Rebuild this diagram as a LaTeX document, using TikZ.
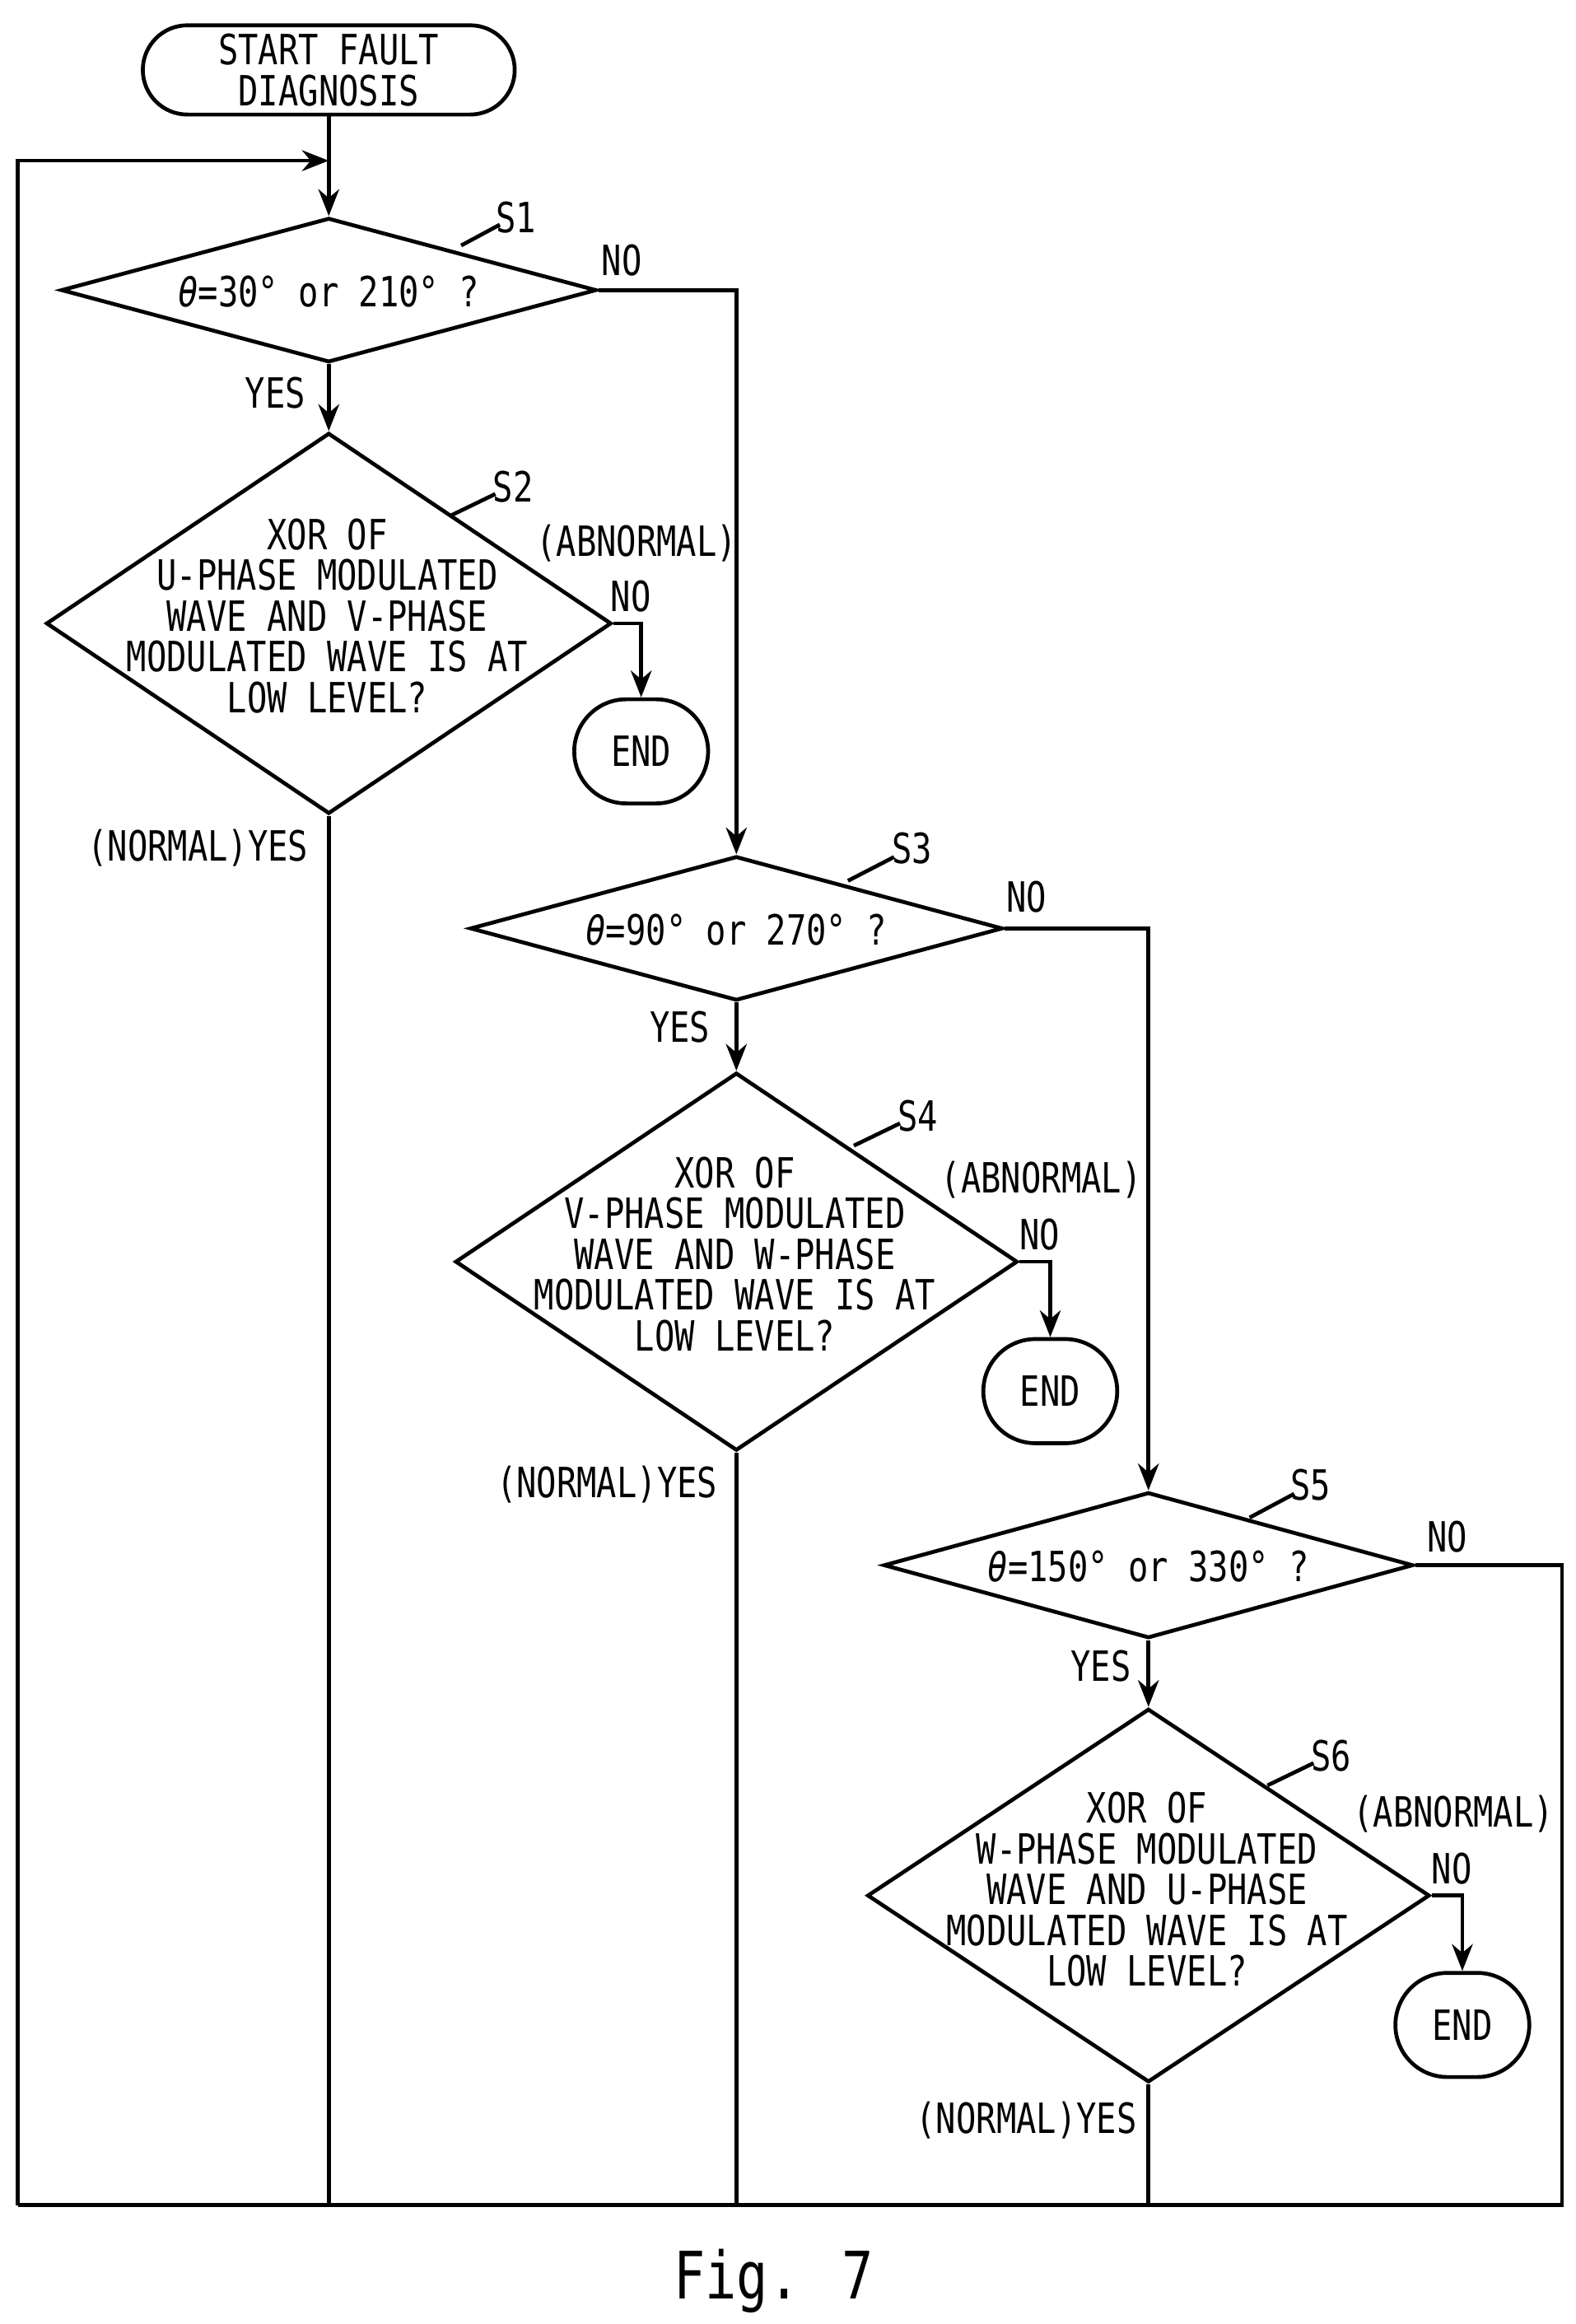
\documentclass[tikz,border=0pt]{standalone}
\usepackage{fontspec}
\setmainfont{DejaVu Sans Mono}[FakeStretch=0.8]
\usetikzlibrary{shapes.geometric,shapes.misc,arrows.meta}
\begin{document}
\begin{tikzpicture}[x=0.5pt,y=-0.5pt,
  every node/.style={font=\fontsize{14}{13.7}\selectfont},
  line/.style={line width=1.3pt},
  arr/.style={line, -{Stealth[length=9pt,width=7pt]}},
  dia/.style={draw,line width=1.3pt,diamond,inner sep=0pt},
  term/.style={draw,line width=1.3pt,rounded rectangle,inner sep=0pt,align=center},
  txt/.style={align=center,inner sep=0pt},
  lbl/.style={inner sep=1pt}]
\useasboundingbox (0,0) rectangle (1059,1562);
% start
\node[term,minimum width=125pt,minimum height=30pt] (start) at (221,47) {START FAULT\\DIAGNOSIS};
\coordinate (j0) at (221,108);
% S1
\node[dia,minimum width=180pt,minimum height=48.5pt] (s1) at (221,195) {};
\node[txt] at (221,196) {{\itshape θ}=30°  or  210°  ?};
\node[lbl] (l1) at (347,146) {S1};
\draw[line] (310,165) -- (336,151);
% S2
\node[dia,minimum width=190pt,minimum height=128pt] (s2) at (221,419) {};
\node[txt] at (220,414) {XOR OF\\U-PHASE MODULATED\\WAVE AND V-PHASE\\MODULATED WAVE IS AT\\LOW LEVEL?};
\node[lbl] at (345,327) {S2};
\draw[line] (302,347) -- (333,332);
\node[term,minimum width=45pt,minimum height=35pt] (e1) at (431,505) {END};
% S3
\node[dia,minimum width=179pt,minimum height=48.5pt] (s3) at (495,624) {};
\node[txt] at (495,625) {{\itshape θ}=90°  or  270°  ?};
\node[lbl] at (613,570) {S3};
\draw[line] (570,592) -- (601,576);
% S4
\node[dia,minimum width=189pt,minimum height=127pt] (s4) at (495,848) {};
\node[txt] at (494,843) {XOR OF\\V-PHASE MODULATED\\WAVE AND W-PHASE\\MODULATED WAVE IS AT\\LOW LEVEL?};
\node[lbl] at (617,750) {S4};
\draw[line] (574,770) -- (605,755);
\node[term,minimum width=45pt,minimum height=35pt] (e2) at (706,935) {END};
% S5
\node[dia,minimum width=178pt,minimum height=49pt] (s5) at (772,1052) {};
\node[txt] at (772,1053) {{\itshape θ}=150°  or  330°  ?};
\node[lbl] at (881,998) {S5};
\draw[line] (840,1020) -- (870,1004);
% S6
\node[dia,minimum width=189pt,minimum height=125.5pt] (s6) at (772,1274) {};
\node[txt] at (771,1270) {XOR OF\\W-PHASE MODULATED\\WAVE AND U-PHASE\\MODULATED WAVE IS AT\\LOW LEVEL?};
\node[lbl] at (895,1180) {S6};
\draw[line] (852,1200) -- (883,1185);
\node[term,minimum width=45pt,minimum height=35pt] (e3) at (983,1361) {END};
% labels
\node[lbl] at (418,175) {NO};
\node[lbl] at (185,264) {YES};
\node[lbl] at (428,365) {(ABNORMAL)};
\node[lbl] at (424,401) {NO};
\node[lbl] at (133,570) {(NORMAL)YES};
\node[lbl] at (690,603) {NO};
\node[lbl] at (457,690) {YES};
\node[lbl] at (700,793) {(ABNORMAL)};
\node[lbl] at (699,830) {NO};
\node[lbl] at (408,998) {(NORMAL)YES};
\node[lbl] at (973,1033) {NO};
\node[lbl] at (740,1120) {YES};
\node[lbl] at (977,1219) {(ABNORMAL)};
\node[lbl] at (976,1256) {NO};
\node[lbl] at (690,1425) {(NORMAL)YES};
\node[lbl,font=\fontsize{22}{24}\selectfont] at (520,1533) {Fig.  7};
% connectors
\coordinate (b) at (12,1482);
\draw[line] (start.south) -- (j0);
\draw[arr] (j0) -- (s1.north);
\draw[arr] (b) -- (12,108) -- (j0);
\draw[arr] (s1.south) -- (s2.north);
\draw[arr] (s1.east) -- (495,195) -- (s3.north);
\draw[arr] (s2.east) -- (431,419) -- (e1.north);
\draw[line] (s2.south) -- (221,1482);
\draw[arr] (s3.south) -- (s4.north);
\draw[arr] (s3.east) -- (772,624) -- (s5.north);
\draw[arr] (s4.east) -- (706,848) -- (e2.north);
\draw[line] (s4.south) -- (495,1482);
\draw[arr] (s5.south) -- (s6.north);
\draw[line] (s5.east) -- (1050,1052) -- (1050,1482) -- (b);
\draw[arr] (s6.east) -- (983,1274) -- (e3.north);
\draw[line] (s6.south) -- (772,1482);
\end{tikzpicture}
\end{document}
